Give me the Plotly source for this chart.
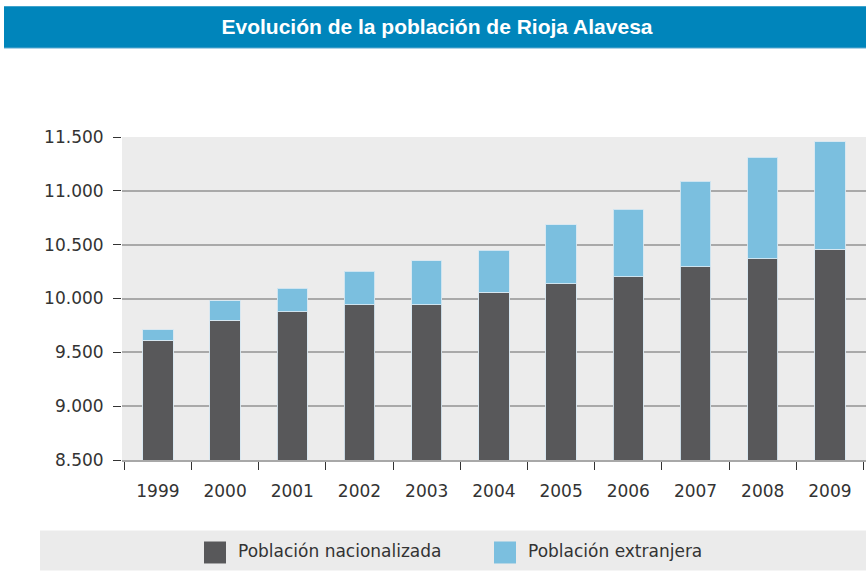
import plotly.graph_objects as go

years = ["1999", "2000", "2001", "2002", "2003", "2004", "2005", "2006", "2007", "2008", "2009"]
nacionalizada = [9610, 9800, 9875, 9943, 9943, 10058, 10135, 10203, 10295, 10367, 10459]
extranjera = [98, 177, 220, 312, 408, 389, 549, 624, 792, 945, 995]
y_ticks = [8500, 9000, 9500, 10000, 10500, 11000, 11500]
y_labels = ["8.500", "9.000", "9.500", "10.000", "10.500", "11.000", "11.500"]
series_names = ["Población nacionalizada", "Población extranjera"]
series_colors = ["#58585a", "#7bbfdf"]

FONT = "DejaVu Sans"
TXT = "#333333"

fig = go.Figure()
for name, vals, col in zip(series_names, [nacionalizada, extranjera], series_colors):
    fig.add_trace(go.Bar(
        x=years, y=vals, name=name, showlegend=False,
        marker=dict(color=col, line=dict(color="rgba(215,232,242,0.9)", width=1)),
    ))

W, H = 866, 571
L, R, T, B = 122, 866, 137, 460.4
pw, ph = R - L, B - T

def px(x):
    return (x - L) / pw

def py(y):
    return (B - y) / ph

shapes = [
    dict(type="rect", xref="paper", yref="paper", x0=px(4), x1=px(866),
         y0=py(48), y1=py(6), fillcolor="#0085bb", line=dict(width=0), layer="below"),
    dict(type="line", xref="paper", yref="paper", x0=px(4), x1=px(866),
         y0=py(48), y1=py(48), line=dict(color="#7ab8d8", width=1)),
    dict(type="rect", xref="paper", yref="paper", x0=px(40), x1=px(866),
         y0=py(571), y1=py(531), fillcolor="#ebebeb", line=dict(width=0), layer="below"),
]
annotations = []
# custom legend (swatch + label)
for name, col, sx, tx in zip(series_names, series_colors, [204, 494], [236, 526]):
    shapes.append(dict(type="rect", xref="paper", yref="paper", x0=px(sx), x1=px(sx + 22),
                       y0=py(564), y1=py(542), fillcolor=col, line=dict(width=0)))
    annotations.append(dict(text=name, xref="paper", yref="paper", x=px(tx), y=py(552),
                            xanchor="left", yanchor="middle", showarrow=False,
                            font=dict(family=FONT, size=17, color=TXT)))

fig.update_layout(
    width=W, height=H,
    barmode="stack", bargap=0.55,
    margin=dict(l=L, r=W - R, t=T, b=H - B, pad=0),
    paper_bgcolor="white", plot_bgcolor="#ececec",
    font=dict(family=FONT, size=17, color=TXT),
    title=dict(text="<b>Evolución de la población de Rioja Alavesa</b>",
               x=437 / W, xanchor="center", y=1 - 27 / H, yanchor="middle",
               font=dict(family="Liberation Sans", size=21, color="white")),
    showlegend=False,
    shapes=shapes,
    annotations=annotations,
)

fig.update_xaxes(
    type="category", range=[-0.534, 10.537],
    tickson="boundaries", ticks="outside", ticklen=8, tickwidth=1, tickcolor=TXT,
    showgrid=False, showline=True, linecolor="#a8a8a8", linewidth=1.5,
    tickfont=dict(family=FONT, size=17, color=TXT), ticklabelstandoff=15,
    zeroline=False,
)
fig.update_yaxes(
    range=[8500, 11500], tickvals=y_ticks, ticktext=y_labels,
    ticks="outside", ticklen=8, tickwidth=1, tickcolor=TXT,
    showgrid=True, gridcolor="#a9a9a9", gridwidth=1.5,
    showline=False, zeroline=False,
    tickfont=dict(family=FONT, size=17, color=TXT), ticklabelstandoff=6,
)

fig.write_html("out.html", config={"displayModeBar": False},
               post_script="document.body.style.margin='0';document.body.style.overflow='hidden';")
